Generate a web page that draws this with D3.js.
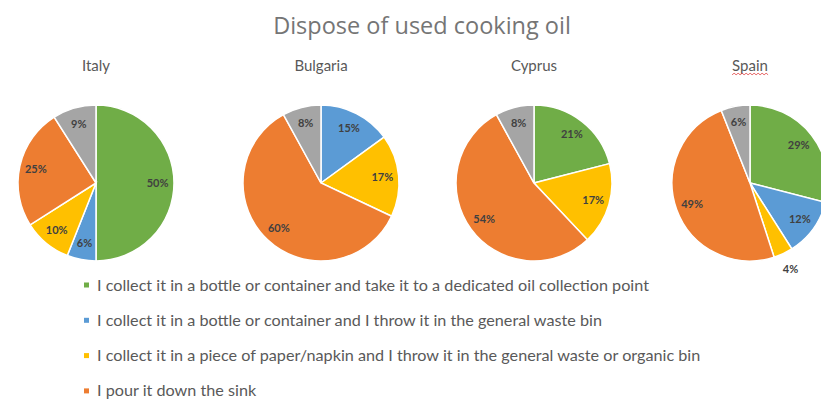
<!DOCTYPE html>
<html>
<head>
<meta charset="utf-8">
<script src="https://cdn.jsdelivr.net/npm/d3@7"></script>
<style>
  body { margin: 0; background: #fff; }
  svg { display: block; }
</style>
</head>
<body>
<div id="chart"></div>
<script>
// Dados (percentuais por país)
var countries = ["Italy", "Bulgaria", "Cyprus", "Spain"];
var categories = [
  "I collect it in a bottle or container and take it to a dedicated oil collection point",
  "I collect it in a bottle or container and I throw it in the general waste bin",
  "I collect it in a piece of paper/napkin and I throw it in the general waste or organic bin",
  "I pour it down the sink",
  "Other"
];
var italy    = [50, 6, 10, 25, 9];
var bulgaria = [0, 15, 17, 60, 8];
var cyprus   = [21, 0, 17, 54, 8];
var spain    = [29, 12, 4, 49, 6];
var series = [italy, bulgaria, cyprus, spain];
var legendCount = 4; // só as 4 primeiras categorias aparecem na legenda

var width = 821, height = 401;
var radius = 78;
var pieY = 183;

var svg = d3.select("#chart").append("svg")
    .attr("width", width)
    .attr("height", height);

// Paleta do Office
var color = d3.scaleOrdinal()
    .domain(categories)
    .range(["#70AD47", "#5B9BD5", "#FFC000", "#ED7D31", "#A5A5A5"]);

// Posição horizontal de cada pizza
var x = d3.scaleOrdinal()
    .domain(countries)
    .range([96, 321, 534, 750]);

// Título principal
svg.append("text")
    .attr("x", 422)
    .attr("y", 34)
    .attr("text-anchor", "middle")
    .style("font-family", "'Open Sans', sans-serif")
    .style("font-size", "23.5px")
    .style("fill", "#757575")
    .text("Dispose of used cooking oil");

var pie = d3.pie().sort(null).value(function(d) { return d.value; });
var arc = d3.arc().innerRadius(0).outerRadius(radius);
var labelArc = d3.arc().innerRadius(radius * 0.79).outerRadius(radius * 0.79);
var outerArc = d3.arc().innerRadius(radius * 1.22).outerRadius(radius * 1.22);

countries.forEach(function(name, i) {
  var data = series[i].map(function(v, j) { return {key: categories[j], value: v}; });

  var g = svg.append("g")
      .attr("transform", "translate(" + x(name) + "," + pieY + ")");

  // Nome do país
  var title = svg.append("text")
      .attr("x", x(name))
      .attr("y", 71)
      .attr("text-anchor", "middle")
      .style("font-family", "Lato, sans-serif")
      .style("font-size", "15px")
      .style("fill", "#595959")
      .text(name);

  // Sublinhado ondulado vermelho do corretor ortográfico em "Spain"
  if (name === "Spain") {
    var w = title.node().getComputedTextLength();
    var x0 = x(name) - w / 2, pts = [];
    for (var k = 0; k <= Math.round(w / 2); k++) {
      pts.push([x0 + k * 2, 74 + (k % 2 ? -0.8 : 0.8)]);
    }
    svg.append("path")
        .attr("d", d3.line()(pts))
        .attr("fill", "none")
        .attr("stroke", "#e04040")
        .attr("stroke-width", 0.8);
  }

  var arcs = pie(data).filter(function(d) { return d.data.value > 0; });

  g.selectAll(".slice")
      .data(arcs)
    .enter().append("path")
      .attr("class", "slice")
      .attr("d", arc)
      .attr("fill", function(d) { return color(d.data.key); })
      .attr("stroke", "#fff")
      .attr("stroke-width", 1.5);

  g.selectAll(".label")
      .data(arcs)
    .enter().append("text")
      .attr("class", "label")
      .attr("transform", function(d) {
        var c = d.data.value < 5 ? outerArc.centroid(d) : labelArc.centroid(d);
        return "translate(" + c + ")";
      })
      .attr("dy", "0.35em")
      .attr("text-anchor", "middle")
      .style("font-family", "Lato, sans-serif")
      .style("font-weight", "bold")
      .style("font-size", "11px")
      .style("fill", "#404040")
      .text(function(d) { return d.data.value + "%"; });
});

// Legenda
var legend = svg.selectAll(".legend")
    .data(categories.slice(0, legendCount))
  .enter().append("g")
    .attr("class", "legend")
    .attr("transform", function(d, i) { return "translate(84," + (285 + i * 35.3) + ")"; });

legend.append("rect")
    .attr("x", 0)
    .attr("y", -2.5)
    .attr("width", 5)
    .attr("height", 5)
    .attr("fill", function(d) { return color(d); });

legend.append("text")
    .attr("x", 13)
    .attr("y", 5.5)
    .style("font-family", "Lato, sans-serif")
    .style("font-size", "16.2px")
    .style("fill", "#595959")
    .text(function(d) { return d; });
</script>
</body>
</html>
